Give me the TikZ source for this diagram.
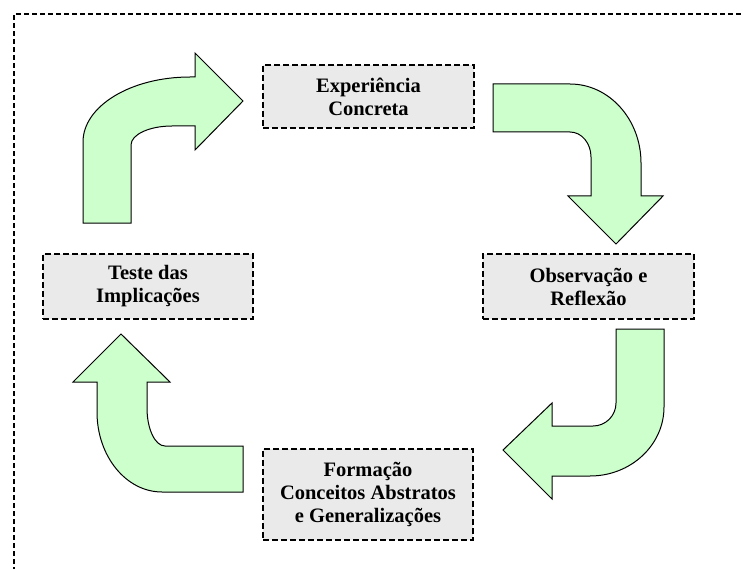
\documentclass[tikz,border=0pt]{standalone}
\usepackage{fontspec}
\setmainfont{Liberation Serif}
\definecolor{arrowgreen}{HTML}{CCFFCC}
\definecolor{boxgray}{HTML}{EAEAEA}
\tikzset{
  stagebox/.style={draw=black, fill=boxgray, line width=2pt, dash pattern=on 6pt off 3pt,
    align=center, font=\fontsize{20.5}{23}\selectfont\bfseries, inner sep=0pt, anchor=center},
  blockarrow/.style={draw=black, fill=arrowgreen, line width=1pt, line join=miter},
  frameline/.style={draw=black, line width=2pt, dash pattern=on 5pt off 3pt}
}
\begin{document}
\begin{tikzpicture}[x=1pt, y=-1pt]
\useasboundingbox (0,0) rectangle (743,569);
% outer frame (only top and left visible)
\draw[frameline] (14,580) -- (14,14) -- (760,14);

% stage boxes
\node[stagebox, minimum width=211pt, minimum height=63pt] (exp) at (368.5,96.5) {Experiência\\Concreta};
\node[stagebox, minimum width=211pt, minimum height=65pt] (obs) at (588.5,286.5) {Observação e\\Reflexão};
\node[stagebox, minimum width=210pt, minimum height=65pt] (tes) at (148,286.5) {Teste das\\Implicações};
\node[stagebox, minimum width=210pt, minimum height=91pt] (for) at (368,494.5) {Formação\\Conceitos Abstratos\\e Generalizações};

% arrow 1: up then right (Teste -> Experiência)
\draw[blockarrow] (83,223) -- (83,142)
  .. controls (83,106.1) and (130.9,77) .. (190,77)
  -- (195,77) -- (195,53) -- (243,101) -- (195,150) -- (195,126) -- (172,126)
  .. controls (149.4,126) and (131,134.5) .. (131,145)
  -- (131,223) -- cycle;

% arrow 2: right then down (Experiência -> Observação)
\draw[blockarrow] (493,84) -- (570,84)
  .. controls (609.2,84) and (641,119.4) .. (641,163)
  -- (641,196) -- (663,196) -- (616,244) -- (568,196) -- (591,196) -- (591,157)
  .. controls (591,143.2) and (581.6,132) .. (570,132)
  -- (493,132) -- cycle;

% arrow 3: down then left (Observação -> Formação)
\draw[blockarrow] (616,329) -- (664,329) -- (664,407)
  .. controls (664,445.1) and (630.9,476) .. (590,476)
  -- (552,476) -- (552,499) -- (503,450) -- (552,403) -- (552,426) -- (593,426)
  .. controls (605.7,426) and (616,415.7) .. (616,403)
  -- cycle;

% arrow 4: left then up (Formação -> Teste)
\draw[blockarrow] (243,446) -- (165,446)
  .. controls (155.1,446) and (147,429) .. (147,408)
  -- (147,382) -- (170,382) -- (121,334) -- (73,382) -- (97,382) -- (97,412)
  .. controls (97,456.2) and (126.1,492) .. (162,492)
  -- (243,492) -- cycle;
\end{tikzpicture}
\end{document}
